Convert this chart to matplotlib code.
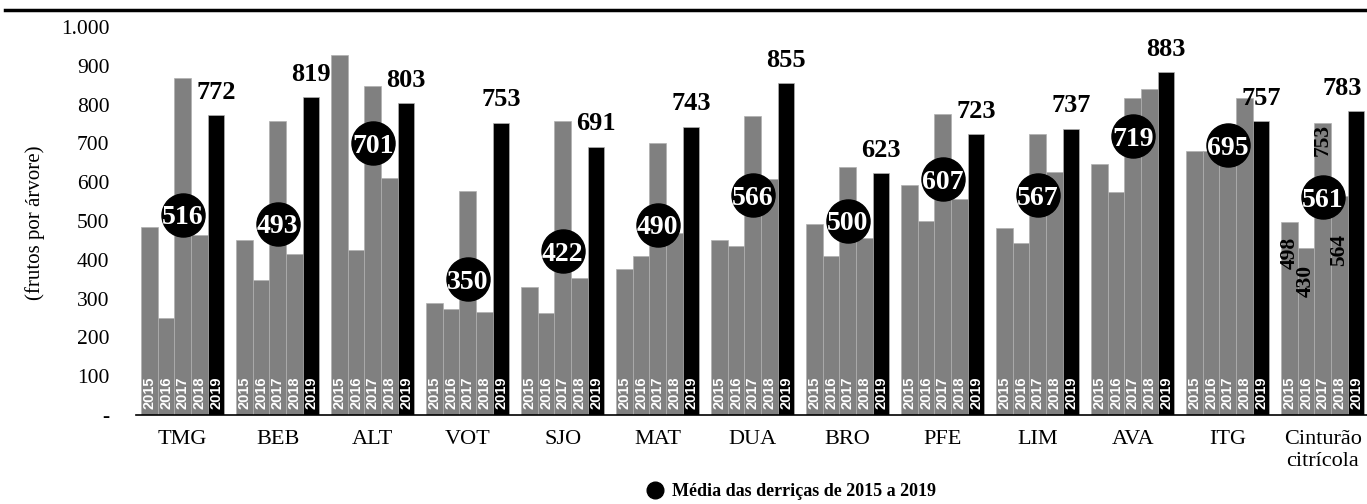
import numpy as np
import matplotlib
matplotlib.use('Agg')
import matplotlib.pyplot as plt
from matplotlib.lines import Line2D

plt.rcParams['font.family'] = ['Liberation Serif', 'DejaVu Serif']

# dados (frutos por árvore)
regioes = ['TMG', 'BEB', 'ALT', 'VOT', 'SJO', 'MAT', 'DUA', 'BRO', 'PFE',
           'LIM', 'AVA', 'ITG', 'Cinturão\ncitrícola']
anos = ['2015', '2016', '2017', '2018', '2019']
v2015 = [484, 451, 928, 289, 330, 376, 451, 492, 593, 483, 646, 680, 498]
v2016 = [250, 348, 425, 273, 263, 410, 436, 410, 500, 444, 575, 681, 430]
v2017 = [869, 758, 848, 577, 758, 701, 771, 640, 777, 723, 816, 682, 753]
v2018 = [464, 415, 611, 265, 353, 470, 608, 457, 557, 625, 839, 818, 564]
v2019 = [772, 819, 803, 753, 691, 743, 855, 623, 723, 737, 883, 757, 783]
media = [516, 493, 701, 350, 422, 490, 566, 500, 607, 567, 719, 695, 561]
yticks = [0, 100, 200, 300, 400, 500, 600, 700, 800, 900, 1000]
ytick_labels = ['-', '100', '200', '300', '400', '500', '600', '700', '800',
                '900', '1.000']

series = [v2015, v2016, v2017, v2018, v2019]
cores = ['#808080'] * 4 + ['#000000']

fig = plt.figure(figsize=(13.67, 5.04), dpi=100)
ax = fig.add_axes([136 / 1367, 1 - 415 / 504, 1 - 136 / 1367, (415 - 27) / 504])

x = np.arange(len(regioes))
w = 0.1758

for j, vals in enumerate(series):
    xs = x + (j - 2) * w
    ax.bar(xs, vals, width=w, color=cores[j], edgecolor='#b0b0b0',
           linewidth=0.5, zorder=2)
    for xi in xs:
        ax.annotate(anos[j], (xi, 0), xytext=(0, 4), textcoords='offset points',
                    rotation=90, ha='center', va='bottom', color='white',
                    fontsize=10.5, fontweight='bold', family='Liberation Sans',
                    zorder=5)

# rótulos 2019
x19 = x + 2 * w
for i, v in enumerate(v2019):
    dx = -10 if i == len(v2019) - 1 else 0
    ax.annotate(str(v), (x19[i], v), xytext=(dx, 12), textcoords='offset points',
                ha='center', va='baseline', fontsize=19, fontweight='bold',
                zorder=6)

# média
ax.plot(x, media, 'o', color='black', markersize=31, ls='', zorder=4)
for i, m in enumerate(media):
    ax.text(x[i], m, str(m), color='white', fontsize=20, fontweight='bold',
            ha='center', va='center_baseline', zorder=5)

# valores do cinturão citrícola
c = len(regioes) - 1
desl = [11, 12, 1, 27]
for j, vals in enumerate(series[:4]):
    ax.annotate(str(vals[c]), (x[c] + (j - 2) * w, vals[c]), xytext=(0, -desl[j]),
                textcoords='offset points', rotation=90, ha='center', va='top',
                fontsize=15.5, fontweight='bold', zorder=6)

ax.set_ylim(0, 1000)
ax.set_xlim(-0.492, 12.466)
ax.set_yticks(yticks)
ax.set_yticklabels(ytick_labels)
ax.set_xticks(x)
ax.set_xticklabels(regioes)
ax.tick_params(axis='y', length=0, pad=19, labelsize=15.5)
ax.tick_params(axis='x', length=0, pad=11, labelsize=16)
for s in ['top', 'right', 'left']:
    ax.spines[s].set_visible(False)
ax.spines['bottom'].set_linewidth(1.2)
ax.spines['bottom'].set_zorder(7)

fig.text(35 / 1367, 1 - 223 / 504, '(frutos por árvore)', rotation=90,
         ha='center', va='center', fontsize=15)

fig.add_artist(Line2D([0.004, 1], [1 - 10 / 504] * 2, color='black', lw=2.5))

h = Line2D([], [], marker='o', ls='', color='black', markersize=12)
fig.legend([h], ['Média das derriças de 2015 a 2019'], loc='center',
           bbox_to_anchor=(790 / 1367, 1 - 492 / 504), frameon=False,
           handletextpad=0.3, borderpad=0, handlelength=1.2,
           prop={'weight': 'bold', 'size': 13})

fig.savefig('out.png', dpi=100)
